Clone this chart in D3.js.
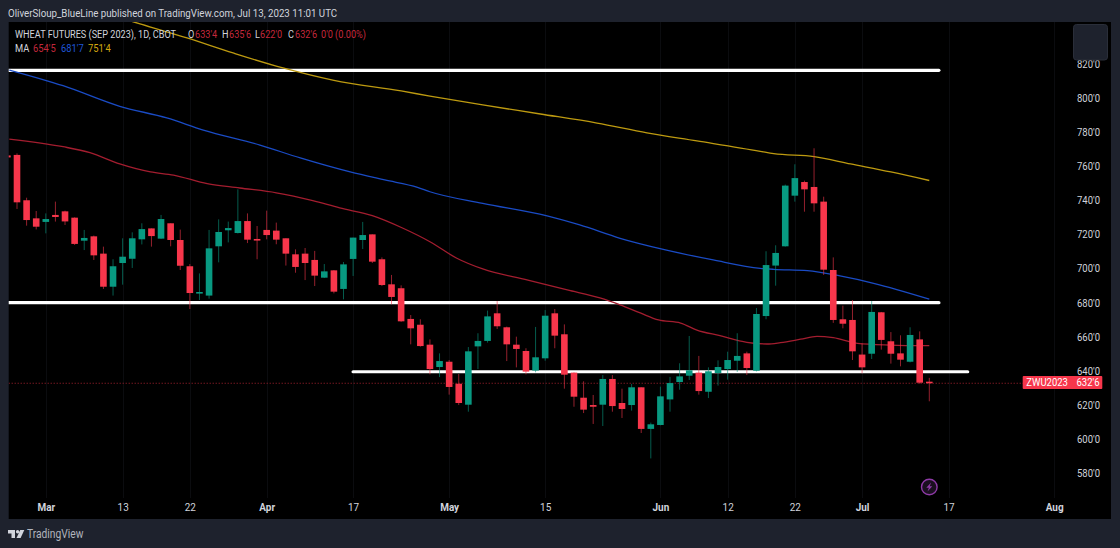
<!DOCTYPE html>
<html><head><meta charset="utf-8">
<script src="https://cdn.jsdelivr.net/npm/d3@7"></script>
<style>
html,body{margin:0;padding:0;background:#1e222d;overflow:hidden}
svg{display:block}
text{font-family:"Roboto",sans-serif}
</style></head><body>
<div id="chart"></div>
<script>
const opens=[766.5,739.9,729.3,727.2,731.3,733.4,729.7,716.2,718.75,708.6,689.2,703.1,705.6,717.0,723.4,717.4,726.4,716.6,701.2,685.5,684.0,712.9,722.3,720.7,727.7,717.2,722.5,722.1,717.6,708.2,708.6,704.9,694.5,698.8,687.9,705.5,716.6,719.9,705.3,690.6,688.3,670.3,666.9,655.2,642.1,645.2,632.3,620.0,654.2,657.4,673.6,665.4,655.2,651.5,640.0,647.2,673.6,661.3,638.8,624.1,619.8,620.0,635.1,621.0,619.8,630.2,605.8,608.1,623.1,633.3,637.0,638.8,627.6,638.6,640.9,645.8,650.1,639.9,672.0,701.6,712.9,742.6,750.6,747.7,739.1,699.0,670.1,669.7,649.4,649.9,674.2,657.2,650.1,645.2,658.3,633.5];
const highs=[767.4,741.4,733.6,732.2,739.1,733.8,729.9,722.5,719.2,712.7,705.3,717.6,721.1,726.4,723.4,731.3,726.4,722.7,702.5,697.0,722.5,728.7,727.4,746.3,732.2,724.8,733.8,726.8,717.6,711.1,711.9,710.2,702.5,699.0,703.7,718.0,727.2,719.9,706.4,696.1,690.0,672.6,670.1,658.3,650.1,646.2,638.0,653.8,661.9,675.2,680.8,665.8,659.9,653.1,665.6,675.5,676.1,667.1,639.0,633.7,625.7,637.4,637.4,629.4,632.2,630.2,609.5,630.6,636.3,644.3,660.3,648.6,641.9,646.0,651.1,661.9,651.1,676.7,710.0,713.5,749.1,761.0,751.4,770.4,742.0,706.4,678.1,681.4,656.0,680.8,674.4,662.6,660.7,665.4,663.0,635.75];
const lows=[734.8,725.0,722.8,720.5,727.4,725.4,713.7,710.7,704.9,687.9,684.0,690.4,700.2,714.0,712.7,717.2,712.9,699.0,676.1,681.4,682.2,703.5,715.2,720.4,714.8,705.3,717.0,714.1,701.6,697.4,693.1,689.6,694.3,685.3,681.8,695.5,711.3,703.1,689.6,678.9,668.6,655.4,654.0,637.8,636.2,625.9,619.8,615.9,640.9,656.4,664.4,645.6,641.9,637.8,639.0,645.8,653.1,629.4,618.8,615.1,608.7,607.5,615.9,612.2,616.5,603.4,588.5,607.9,615.9,628.8,634.5,625.9,623.9,631.2,634.7,639.2,637.4,639.5,670.1,689.8,712.7,739.1,733.2,733.2,696.1,668.0,664.8,646.2,638.4,646.8,652.3,644.1,642.5,644.8,632.3,622.0];
const closes=[738.7,728.3,724.4,728.9,730.1,727.5,714.3,717.8,707.6,689.2,701.2,706.8,717.6,723.0,718.9,728.9,716.6,701.5,685.5,686.1,711.7,721.3,723.6,727.7,716.8,716.8,719.5,716.8,708.6,700.8,703.1,695.7,698.2,686.3,702.3,718.0,719.5,703.9,690.2,683.2,668.9,664.8,654.4,640.9,645.6,630.4,621.0,651.3,657.4,671.8,666.0,655.4,652.7,639.4,647.8,672.2,660.5,637.6,624.7,617.1,618.8,635.1,619.2,617.5,630.2,605.8,608.5,624.9,632.7,636.6,640.2,628.0,639.6,642.1,646.2,648.6,641.5,673.2,701.9,709.0,748.5,752.9,746.3,738.1,699.2,669.7,667.5,651.3,641.9,674.4,658.0,649.9,646.4,660.9,632.9,632.75];

const maShortIdx=[-0.8,4.8,7.6,10.7,13.9,16.3,19.8,23.2,27,30.8,33.6,37,40.2,43,45.8,48.5,53.2,57.3,60.7,62.8,64.9,66.8,69.1,70.8,73.2,76,78.1,79.5,81.6,83.3,85,87.5,90.9,95];
const maShortVal=[775.8,771.3,767.8,761.2,756.5,754.7,749.6,747.1,744.3,739.7,735.4,730.9,723.5,715.6,705.9,699.6,693.1,687.3,682.6,678.5,673.8,669.7,667.9,663.8,660.5,656.6,655.6,656.4,658.4,660.1,659.3,656,655,654.6];
const maMidIdx=[-0.8,4.8,10.7,15.6,19.4,25.3,29.5,34.7,38.3,41.7,43,48.5,55.2,58.6,62.8,67.3,72.5,77.4,78.8,82.3,85.7,89.2,95];
const maMidVal=[816.3,807.1,795,788.2,781.1,772.3,764.7,756.5,751.8,747.5,744.9,738.1,730.7,725.4,717.6,711.1,704.9,700,699.4,698.6,695.5,691.2,681.9];
const maLongIdx=[11,12.1,17.7,22.5,27.7,33,40,43,48.5,54.5,60.4,65.6,70.8,77.4,78.8,83,86.8,91,95];
const maLongVal=[846.5,844.6,835.1,826.3,817.5,810.2,804.0,801,795.8,790.5,785.2,779.4,774.7,768.6,767.2,765.5,761.2,756.5,751.5];

const levelPrices=[816.3,680,639.5];
const levelStart=[-0.9,-0.9,35.0];
const levelEnd=[96.0,96.0,99.0];

const priceTicks=[820,800,780,760,740,720,700,680,660,640,620,600,580];
const timeTickIdx=[3,11,18,26,35,45,55,67,74,81,88,97,108];
const timeTickLabels=["Mar","13","22","Apr","17","May","15","Jun","12","22","Jul","17","Aug"];

const lastPrice=632.75, lastLabel="632'6", symbol="ZWU2023";
const legendRow1=[["WHEAT FUTURES (SEP 2023), 1D, CBOT",15,"#d1d4dc"],["O",188,"#d1d4dc"],["633'4",195,"#c4283c"],["H",222,"#d1d4dc"],["635'6",229,"#c4283c"],["L",255,"#d1d4dc"],["622'0",260,"#c4283c"],["C",288,"#d1d4dc"],["632'6",295,"#c4283c"],["0'0 (0.00%)",321,"#c4283c"]];
const legendRow2=[["MA",15,"#d1d4dc"],["654'5",33,"#c4283c"],["681'7",61,"#1f56d8"],["751'4",88,"#d4a90f"]];
const publishedText="OliverSloup_BlueLine published on TradingView.com, Jul 13, 2023 11:01 UTC";

const W=1120,H=548,UP="#089981",DOWN="#f7364b";
const paneL=8.7,paneT=22,paneR=1111,paneB=519;
const svg=d3.select("#chart").append("svg").attr("width",W).attr("height",H);
svg.append("rect").attr("width",W).attr("height",H).attr("fill","#1e222d");
svg.append("rect").attr("x",paneL).attr("y",paneT).attr("width",paneR-paneL).attr("height",paneB-paneT).attr("fill","#000");
const defs=svg.append("defs");
defs.append("clipPath").attr("id","pane").append("rect").attr("x",paneL).attr("y",paneT).attr("width",1062-paneL+50).attr("height",498-paneT);

const x=d3.scaleLinear().domain([0,95]).range([17,929.3]);
const y=d3.scaleLinear().domain([580,820]).range([472.9,63.7]);

// condense glyphs so the installed font fits the reference's narrow text widths
function squeeze(sel,k){sel.each(function(){const w=this.getComputedTextLength();d3.select(this).attr("textLength",w*k).attr("lengthAdjust","spacingAndGlyphs");});}

// faint grid
const grid=svg.append("g").attr("stroke","#0b0c0f").attr("stroke-width",1);
grid.selectAll("line").data(timeTickIdx).join("line").attr("x1",d=>Math.round(x(d))+.5).attr("x2",d=>Math.round(x(d))+.5).attr("y1",paneT).attr("y2",498);

const plot=svg.append("g").attr("clip-path","url(#pane)");

// user-drawn horizontal levels
plot.selectAll("line.level").data(levelPrices).join("line").attr("class","level")
  .attr("x1",(d,i)=>x(levelStart[i])).attr("x2",(d,i)=>x(levelEnd[i]))
  .attr("y1",d=>y(d)+.3).attr("y2",d=>y(d)+.3)
  .attr("stroke","#fff").attr("stroke-width",3.2).attr("stroke-linecap","round");

// last price line
plot.append("line").attr("x1",paneL).attr("x2",1023).attr("y1",y(lastPrice)+.3).attr("y2",y(lastPrice)+.3)
  .attr("stroke","#a8222f").attr("stroke-width",1).attr("stroke-dasharray","1 2");

const lineGen=d3.line().x(d=>x(d[0])).y(d=>y(d[1])).curve(d3.curveMonotoneX);
[[maShortIdx,maShortVal,"#a31d2f"],[maMidIdx,maMidVal,"#1a4bc4"],[maLongIdx,maLongVal,"#bd9a10"]].forEach(([a,b,c])=>{
  plot.append("path").attr("d",lineGen(d3.zip(a,b))).attr("fill","none").attr("stroke",c).attr("stroke-width",1.3);
});

const data=opens.map((o,i)=>({i,o,h:highs[i],l:lows[i],c:closes[i]}));
const col=d=>d.c>=d.o?UP:DOWN;
plot.selectAll("line.wick").data(data).join("line").attr("class","wick")
  .attr("x1",d=>x(d.i)).attr("x2",d=>x(d.i)).attr("y1",d=>y(d.h)).attr("y2",d=>y(d.l))
  .attr("stroke",col).attr("stroke-opacity",.6).attr("stroke-width",1);
const bw=6.6;
plot.selectAll("rect.body").data(data).join("rect").attr("class","body")
  .attr("x",d=>x(d.i)-bw/2).attr("width",bw)
  .attr("y",d=>y(Math.max(d.o,d.c)))
  .attr("height",d=>Math.max(1.6,Math.abs(y(d.o)-y(d.c))))
  .attr("fill",col);

// clipped prior candle at left edge
plot.append("rect").attr("x",x(-1)-bw/2).attr("width",bw).attr("y",y(766.2)).attr("height",2).attr("fill",DOWN);

// price axis
const yAxis=d3.axisRight(y).tickValues(priceTicks).tickSize(0).tickPadding(0).tickFormat(d=>d+"'0");
const gy=svg.append("g").attr("transform","translate(1077,0)").call(yAxis);
gy.select(".domain").remove();
gy.selectAll("text").attr("fill","#d1d4dc").attr("font-size",11.3).attr("font-family","Roboto").call(squeeze,.84);

// time axis
const xAxis=d3.axisBottom(x).tickValues(timeTickIdx).tickSize(0).tickPadding(0).tickFormat((d,i)=>timeTickLabels[i]);
const gx=svg.append("g").attr("transform","translate(0,503)").call(xAxis);
gx.select(".domain").remove();
gx.selectAll("text").attr("fill","#d1d4dc").attr("font-size",11.3).attr("font-family","Roboto")
  .attr("dy","0.7em")
  .attr("font-weight",(d,i)=>isNaN(+timeTickLabels[i])?700:400).call(squeeze,.88);

// last price tag
svg.append("rect").attr("x",1022.7).attr("y",376).attr("width",79.6).attr("height",13).attr("fill",DOWN).attr("rx",1);
svg.append("text").attr("x",1026.3).attr("y",386.4).attr("fill","#fff").attr("font-size",11.3).text(symbol).call(squeeze,.84);
svg.append("text").attr("x",1076.5).attr("y",386.4).attr("fill","#fff").attr("font-size",11.3).text(lastLabel).call(squeeze,.84);

// legend
const leg=svg.append("g").attr("font-size",11);
leg.selectAll("text.r1").data(legendRow1).join("text").attr("class","r1").attr("x",d=>d[1]).attr("y",38).attr("fill",d=>d[2]).text(d=>d[0]).call(squeeze,.83);
leg.selectAll("text.r2").data(legendRow2).join("text").attr("class","r2").attr("x",d=>d[1]).attr("y",51.5).attr("fill",d=>d[2]).text(d=>d[0]).call(squeeze,.85);

// header
svg.append("text").attr("x",8).attr("y",16.5).attr("fill","#d1d4dc").attr("font-size",11.3).text(publishedText).call(squeeze,.86);

// button
svg.append("rect").attr("x",1073.5).attr("y",24.5).attr("width",34).attr("height",35.5).attr("rx",3).attr("fill","#1e222d").attr("stroke","#2a2e39");

// lightning icon
const icon=svg.append("g").attr("transform","translate(929.3,487)");
icon.append("circle").attr("r",7.8).attr("fill","#1a0f1f").attr("stroke","#8e3aa6").attr("stroke-width",1.4);
icon.append("path").attr("d","M1.8,-4.6 L-3,0.8 L-0.4,0.8 L-1.8,4.6 L3,-0.8 L0.4,-0.8 Z").attr("fill","#8e3aa6");

// logo
const logo=svg.append("g").attr("fill","#d1d4dc");
logo.append("path").attr("d","M8,530 H15 V538 H11.5 V533.5 H8 Z");
logo.append("circle").attr("cx",17.6).attr("cy",531.8).attr("r",1.7);
logo.append("path").attr("d","M20.2,530 H24.3 L20.6,538 H16.5 Z");
svg.append("text").attr("x",27).attr("y",538).attr("fill","#b2b5be").attr("font-size",12.5).text("TradingView").call(squeeze,.82);
</script>
</body></html>
